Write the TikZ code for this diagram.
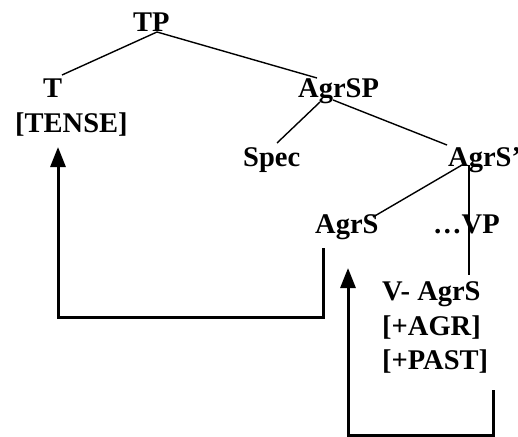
\documentclass[tikz,border=0pt]{standalone}
\usepackage{fontspec}
\setmainfont{Liberation Serif}
\usetikzlibrary{arrows.meta,calc}
\begin{document}
\begin{tikzpicture}[x=1pt,y=-1pt,
  lbl/.style={font=\fontsize{28.5}{34.5}\selectfont\bfseries, inner sep=0pt, anchor=base west},
  branch/.style={line width=1.4pt},
  mover/.style={line width=3pt, -{Triangle[width=15pt,length=20pt]}}]
\useasboundingbox (0,0) rectangle (518,436);
% nodes
\node[lbl] (TP) at (133,31) {TP};
\node[lbl] (T) at (43,97) {T};
\node[lbl] (TENSE) at (15,132) {[TENSE]};
\node[lbl] (AgrSP) at (298,97) {AgrSP};
\node[lbl] (Spec) at (243,166) {Spec};
\node[lbl] (AgrSbar) at (448,166) {AgrS'};
\node[lbl] (AgrS) at (315,233) {AgrS};
\node[lbl] (VP) at (433,233) {\ldots VP};
\node[lbl] (VAgrS) at (382,300) {V- AgrS};
\node[lbl] (AGR) at (382,335) {[+AGR]};
\node[lbl] (PAST) at (382,369) {[+PAST]};
% tree branches
\draw[branch] ([shift={(24,1)}]TP.base west) -- ([shift={(19,-22)}]T.base west);
\draw[branch] ([shift={(24,1)}]TP.base west) -- ([shift={(19,-19)}]AgrSP.base west);
\draw[branch] ([shift={(22,5)}]AgrSP.base west) -- ([shift={(34,-23)}]Spec.base west);
\draw[branch] ([shift={(35,3)}]AgrSP.base west) -- ([shift={(-1,-21)}]AgrSbar.base west);
\draw[branch] ([shift={(14,-1)}]AgrSbar.base west) -- ([shift={(58,-16)}]AgrS.base west);
\draw[branch] ([shift={(21,-1)}]AgrSbar.base west) -- ([shift={(87,-25)}]VAgrS.base west);
% movement arrows
\coordinate (m1s) at ([shift={(8,15)}]AgrS.base west);
\coordinate (m1e) at ([shift={(43,15)}]TENSE.base west);
\draw[mover] (m1s) -- ++(0,69) -| (m1e);
\coordinate (m2s) at ([shift={(111,21)}]PAST.base west);
\coordinate (m2e) at ([shift={(33,35)}]AgrS.base west);
\draw[mover] (m2s) -- ++(0,45) -| (m2e);
\end{tikzpicture}
\end{document}
